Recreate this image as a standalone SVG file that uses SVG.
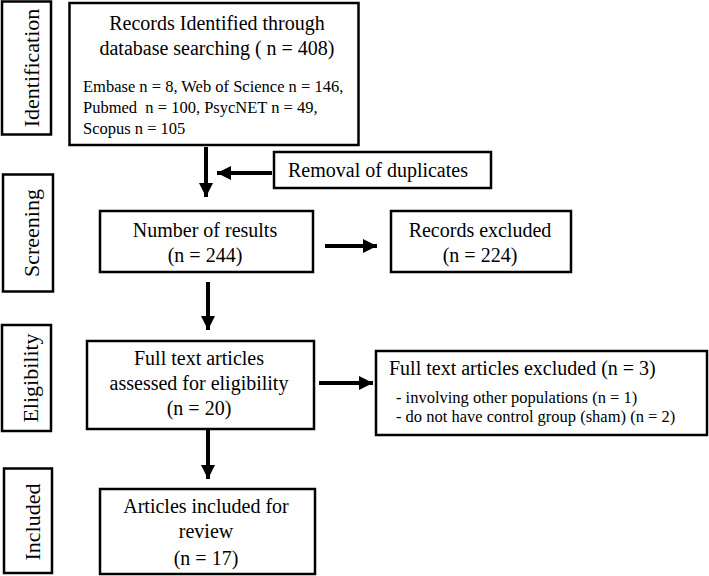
<svg xmlns="http://www.w3.org/2000/svg" width="709" height="576" viewBox="0 0 709 576">
<style>
.box{fill:#fff;stroke:#000;stroke-width:2.5}
text{font-family:"Liberation Serif","Times New Roman",serif;fill:#000}
.t20{font-size:20px}
.t16{font-size:16.5px}
.side{font-size:22px;text-anchor:middle}
.mid{text-anchor:middle}
.pre{white-space:pre}
.conn{stroke:#000;stroke-width:4;fill:none;marker-end:url(#ah)}
</style>
<defs>
<marker id="ah" markerUnits="userSpaceOnUse" markerWidth="16" markerHeight="14" refX="14" refY="7" orient="auto">
<path d="M0,0 L14,7 L0,14 Z" fill="#000"/>
</marker>
</defs>
<g id="stage-identification">
<rect class="box" x="2" y="1.5" width="49" height="133"/>
<text class="side" transform="translate(39,68) rotate(-90)">Identification</text>
</g>
<g id="stage-screening">
<rect class="box" x="3" y="174.5" width="50" height="117"/>
<text class="side" transform="translate(39,233) rotate(-90)">Screening</text>
</g>
<g id="stage-eligibility">
<rect class="box" x="2" y="325" width="49" height="106"/>
<text class="side" transform="translate(38,378) rotate(-90)">Eligibility</text>
</g>
<g id="stage-included">
<rect class="box" x="4" y="468.5" width="48" height="104.5"/>
<text class="side" transform="translate(40,522) rotate(-90)">Included</text>
</g>
<g id="records-identified">
<rect class="box" x="69.5" y="3" width="289" height="142"/>
<text class="t20 mid" x="217" y="30">Records Identified through</text>
<text class="t20 mid" x="217" y="55">database searching ( n = 408)</text>
<text class="t16" x="83" y="92">Embase n = 8, Web of Science n = 146,</text>
<text class="t16 pre" x="83" y="113">Pubmed  n = 100, PsycNET n = 49,</text>
<text class="t16" x="83" y="134">Scopus n = 105</text>
</g>
<g id="removal-duplicates">
<rect class="box" x="274" y="152" width="217" height="36"/>
<text class="t20 mid" x="378" y="177">Removal of duplicates</text>
</g>
<g id="number-results">
<rect class="box" x="100" y="211" width="213" height="61"/>
<text class="t20 mid" x="205" y="237">Number of results</text>
<text class="t20 mid" x="205" y="262">(n = 244)</text>
</g>
<g id="records-excluded">
<rect class="box" x="391" y="211" width="180" height="61"/>
<text class="t20 mid" x="480" y="237">Records excluded</text>
<text class="t20 mid" x="480" y="262">(n = 224)</text>
</g>
<g id="fulltext-assessed">
<rect class="box" x="87" y="341" width="227" height="88"/>
<text class="t20 mid" x="199" y="365">Full text articles</text>
<text class="t20 mid" x="199" y="390">assessed for eligibility</text>
<text class="t20 mid" x="199" y="415">(n = 20)</text>
</g>
<g id="fulltext-excluded">
<rect class="box" x="376" y="351" width="331" height="84"/>
<text class="t20" x="389" y="375">Full text articles excluded (n = 3)</text>
<text class="t16" x="396" y="403">- involving other populations (n = 1)</text>
<text class="t16" x="396" y="422">- do not have control group (sham) (n = 2)</text>
</g>
<g id="articles-included">
<rect class="box" x="100" y="489" width="215" height="85"/>
<text class="t20 mid" x="206" y="513">Articles included for</text>
<text class="t20 mid" x="206" y="538">review</text>
<text class="t20 mid" x="206" y="565">(n = 17)</text>
</g>
<g id="connectors">
<line class="conn" x1="206" y1="147" x2="206" y2="197"/>
<line class="conn" x1="272" y1="173" x2="217" y2="173"/>
<line class="conn" x1="325" y1="246" x2="377" y2="246"/>
<line class="conn" x1="208" y1="282" x2="208" y2="330"/>
<line class="conn" x1="319" y1="383" x2="373" y2="383"/>
<line class="conn" x1="208" y1="430" x2="208" y2="479"/>
</g>
</svg>
